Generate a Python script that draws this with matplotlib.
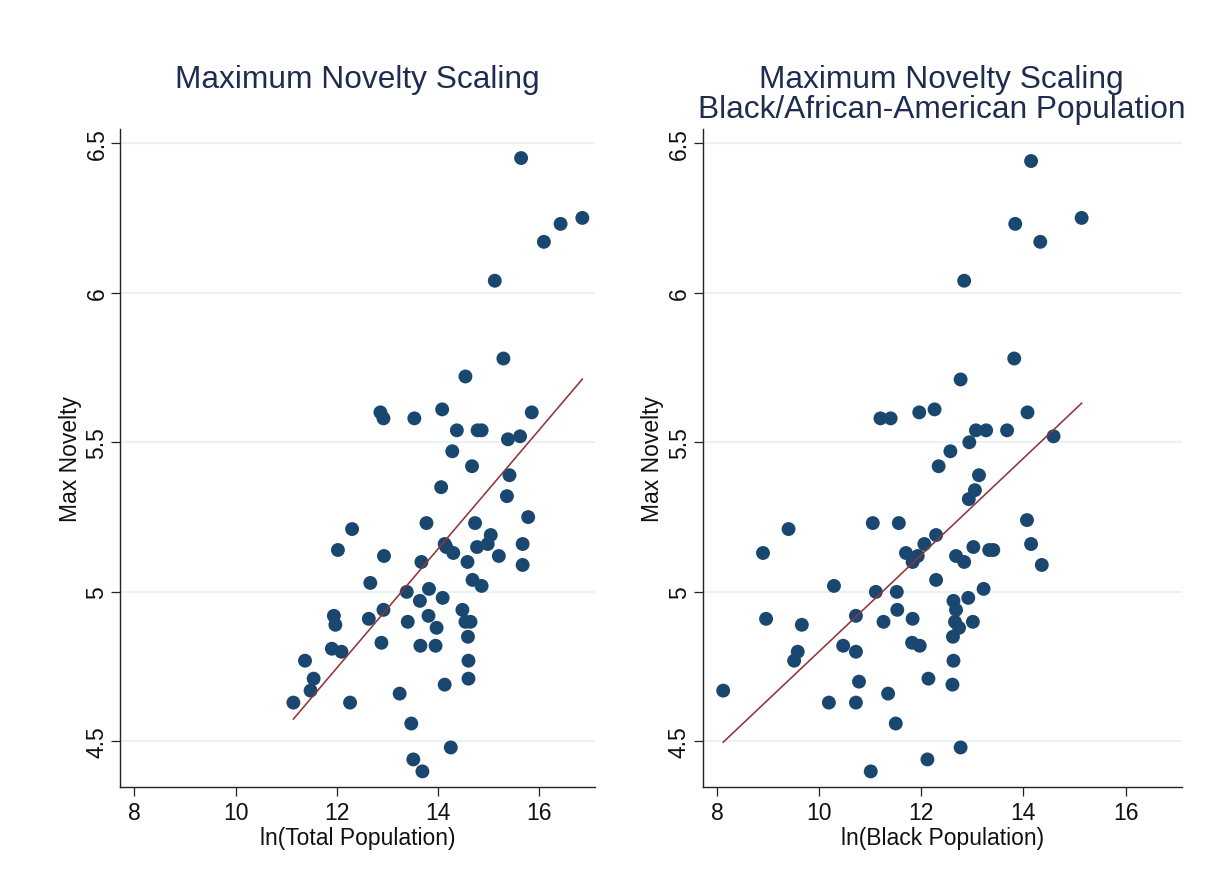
#!/usr/bin/env python3
"""
Max novelty vs log population, two panels (Stata-like look)
"""

import numpy as np
import matplotlib
matplotlib.use('Agg')
import matplotlib.pyplot as plt

plt.rcParams['font.family'] = ['Liberation Sans', 'DejaVu Sans']

# Left panel: ln(Total Population) vs Max Novelty
ln_total = [15.29, 14.54, 12.86, 12.92, 13.53, 14.08, 15.85, 14.37, 14.78, 14.86,
            15.38, 15.62, 14.28, 14.67, 15.41, 14.06, 15.36, 15.78, 12.30, 13.77,
            14.73, 15.04, 12.02, 12.93, 14.13, 14.16, 14.30, 14.77, 14.98, 15.20,
            15.67, 15.67, 13.67, 14.58, 14.68, 14.86, 12.66,
            13.38, 13.82, 14.09, 13.64, 12.92, 11.94, 11.97, 12.63, 13.40, 13.81,
            14.48, 14.54, 14.64, 13.97, 14.59, 11.90, 12.09, 12.88, 13.65, 13.95,
            11.37, 14.60, 11.54, 11.48, 14.13, 14.60, 11.14, 12.26, 13.24, 13.47,
            14.25, 13.51, 13.69,
            15.64, 16.85, 16.42, 16.09, 15.12]
nov_total = [5.78, 5.72, 5.60, 5.58, 5.58, 5.61, 5.60, 5.54, 5.54, 5.54,
             5.51, 5.52, 5.47, 5.42, 5.39, 5.35, 5.32, 5.25, 5.21, 5.23,
             5.23, 5.19, 5.14, 5.12, 5.16, 5.15, 5.13, 5.15, 5.16, 5.12,
             5.16, 5.09, 5.10, 5.10, 5.04, 5.02, 5.03,
             5.00, 5.01, 4.98, 4.97, 4.94, 4.92, 4.89, 4.91, 4.90, 4.92,
             4.94, 4.90, 4.90, 4.88, 4.85, 4.81, 4.80, 4.83, 4.82, 4.82,
             4.77, 4.77, 4.71, 4.67, 4.69, 4.71, 4.63, 4.63, 4.66, 4.56,
             4.48, 4.44, 4.40,
             6.45, 6.25, 6.23, 6.17, 6.04]
fit_total = (2.358, 0.199)   # intercept, slope

# Right panel: ln(Black Population) vs Max Novelty
ln_black = [12.77, 11.20, 11.40, 11.96, 12.26, 14.08, 13.07, 13.27, 13.68, 12.94,
            14.59, 12.57, 12.34, 13.13, 13.05, 12.93, 14.07, 9.40, 11.05, 11.56,
            12.29, 12.06, 13.02, 13.33, 13.41, 14.15, 8.90, 11.70, 11.93, 11.83,
            12.68, 12.84, 14.36, 12.29, 10.29, 11.11, 11.52, 13.22, 12.92, 12.63,
            11.53,
            12.68, 8.96, 9.66, 10.72, 11.26, 11.83, 12.66, 13.01, 12.74, 12.62,
            9.58, 9.51, 10.47, 10.72, 11.82, 11.97, 12.63, 8.12, 10.78, 12.14,
            12.61, 10.19, 10.72, 11.35, 11.50, 12.77, 12.12, 11.01,
            14.15, 13.84, 15.14, 14.33, 12.84, 13.82]
nov_black = [5.71, 5.58, 5.58, 5.60, 5.61, 5.60, 5.54, 5.54, 5.54, 5.50,
             5.52, 5.47, 5.42, 5.39, 5.34, 5.31, 5.24, 5.21, 5.23, 5.23,
             5.19, 5.16, 5.15, 5.14, 5.14, 5.16, 5.13, 5.13, 5.12, 5.10,
             5.12, 5.10, 5.09, 5.04, 5.02, 5.00, 5.00, 5.01, 4.98, 4.97,
             4.94,
             4.94, 4.91, 4.89, 4.92, 4.90, 4.91, 4.90, 4.90, 4.88, 4.85,
             4.80, 4.77, 4.82, 4.80, 4.83, 4.82, 4.77, 4.67, 4.70, 4.71,
             4.69, 4.63, 4.63, 4.66, 4.56, 4.48, 4.44, 4.40,
             6.44, 6.23, 6.25, 6.17, 6.04, 5.78]
fit_black = (3.187, 0.1614)

x_ticks = [8, 10, 12, 14, 16]
y_ticks = [4.5, 5, 5.5, 6, 6.5]
y_tick_labels = ['4.5', '5', '5.5', '6', '6.5']

NAVY = '#1a476f'
MAROON = '#90353b'
GRID = '#eaf2f3'
TITLE_COL = '#1e2d4f'


def draw_panel(ax, x, y, fit, xlabel):
    ax.scatter(x, y, s=100, color=NAVY, edgecolors='none', zorder=3)
    xs = np.array([min(x), max(x)])
    ax.plot(xs, fit[0] + fit[1] * xs, color=MAROON, lw=1.15, zorder=4)

    ax.set_xlim(7.72, 17.1)
    ax.set_ylim(4.348, 6.547)
    ax.set_xticks(x_ticks)
    ax.set_yticks(y_ticks)
    ax.set_yticklabels(y_tick_labels, rotation=90, va='center')
    ax.grid(axis='y', color=GRID, lw=1.6, zorder=0)
    ax.set_axisbelow(True)

    for side in ['top', 'right']:
        ax.spines[side].set_visible(False)
    for side in ['left', 'bottom']:
        ax.spines[side].set_color('#222222')
        ax.spines[side].set_linewidth(1.0)
    ax.tick_params(direction='out', length=6.5, width=0.9, color='#222222',
                   labelsize=16.5, labelcolor='#111111')
    ax.tick_params(axis='x', pad=3.5)
    ax.tick_params(axis='y', pad=2)

    ax.set_xlabel(xlabel, fontsize=16.5, color='#111111', labelpad=1.5)
    ax.set_ylabel('Max Novelty', fontsize=16.5, color='#111111', labelpad=2.5)


fig = plt.figure(figsize=(12.19, 8.95), dpi=100)
ax1 = fig.add_axes([0.0987, 0.1196, 0.3894, 0.7351])
ax2 = fig.add_axes([0.5765, 0.1196, 0.3929, 0.7351])

draw_panel(ax1, ln_total, nov_total, fit_total, 'ln(Total Population)')
draw_panel(ax2, ln_black, nov_black, fit_black, 'ln(Black Population)')

fig.text(0.2934, 0.9275, 'Maximum Novelty Scaling', ha='center', va='top',
         fontsize=22.8, color=TITLE_COL)
fig.text(0.7725, 0.9275, 'Maximum Novelty Scaling\nBlack/African-American Population',
         ha='center', va='top', fontsize=22.8, color=TITLE_COL, linespacing=1.0)

fig.savefig('out.png', dpi=100)
